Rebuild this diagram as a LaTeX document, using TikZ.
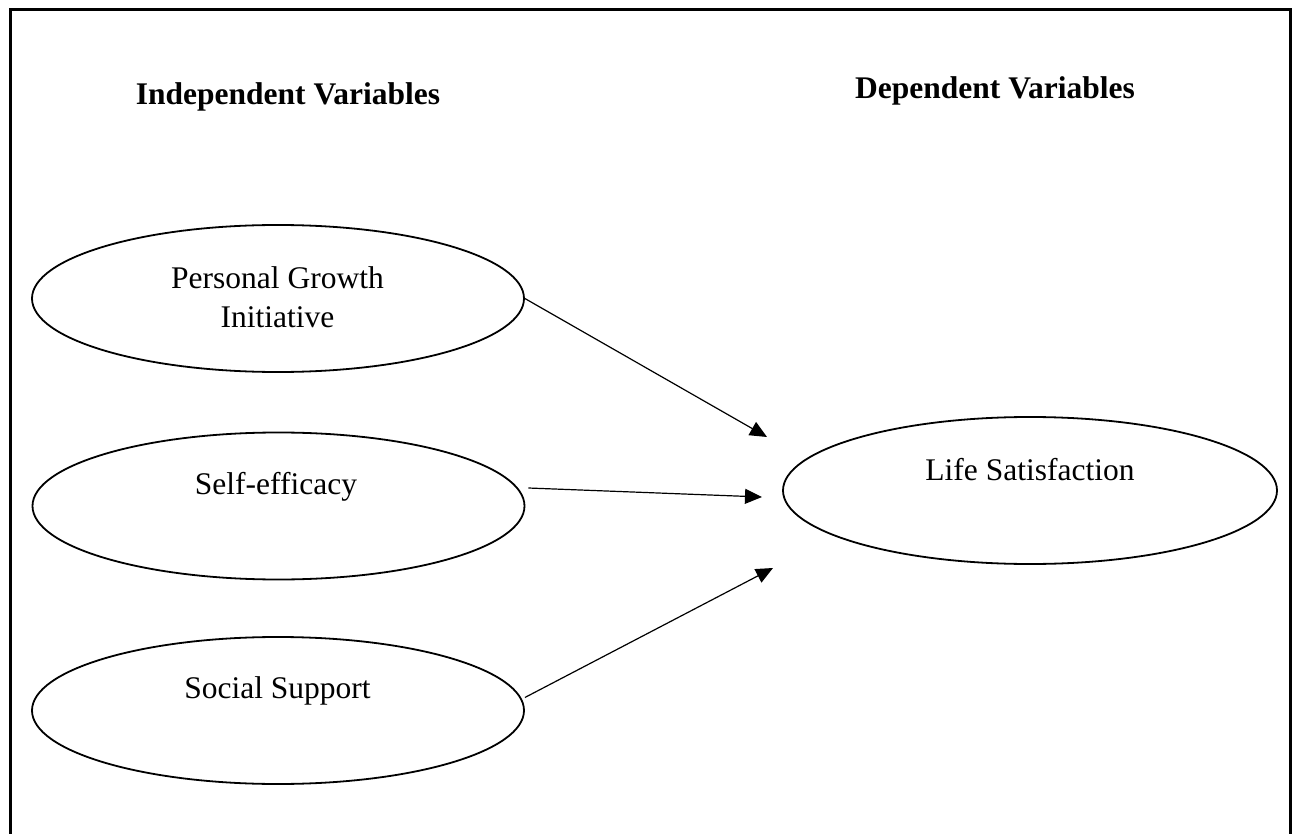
\documentclass[tikz,border=0pt]{standalone}
\usepackage{fontspec}
\setmainfont{Liberation Serif}
\usetikzlibrary{arrows.meta,shapes.geometric}
\begin{document}
\begin{tikzpicture}[x=1pt,y=-1pt,
  varbox/.style={draw,line width=1.8pt,ellipse,inner sep=0pt,minimum width=492pt,minimum height=147pt},
  lbl/.style={font=\fontsize{31.5}{39}\selectfont,anchor=base,align=center,inner sep=0pt},
  hdr/.style={font=\fontsize{31.5}{39}\selectfont\bfseries,anchor=base,inner sep=0pt},
  link/.style={line width=1.2pt,-{Triangle[length=17pt,width=15pt]}}]
\useasboundingbox (0,0) rectangle (1293,834);
\draw[line width=3pt] (10,850) -- (10,10) -- (1290,10) -- (1290,850);
\node[hdr] (hind) at (288,105) {Independent Variables};
\node[hdr] (hdep) at (995,99) {Dependent Variables};
\node[varbox] (pgi) at (278,298.5) {};
\node[varbox] (se) at (278.5,506) {};
\node[varbox] (ss) at (278,710.5) {};
\node[varbox,minimum width=494pt] (ls) at (1030,490.5) {};
\node[lbl] (tpgi) at (277.5,327) {Personal Growth\\Initiative};
\node[lbl] (tse) at (276,494) {Self-efficacy};
\node[lbl] (tss) at (277.5,698) {Social Support};
\node[lbl] (tls) at (1030,480) {Life Satisfaction};
\coordinate (a1) at (767,437);
\coordinate (a2) at (762,497);
\coordinate (a3) at (773,568);
\coordinate (s2) at ([shift={(3,-18)}]se.east);
\coordinate (s3) at ([shift={(0,-13)}]ss.east);
\draw[link] (pgi.east) -- (a1);
\draw[link] (s2) -- (a2);
\draw[link] (s3) -- (a3);
\end{tikzpicture}
\end{document}
